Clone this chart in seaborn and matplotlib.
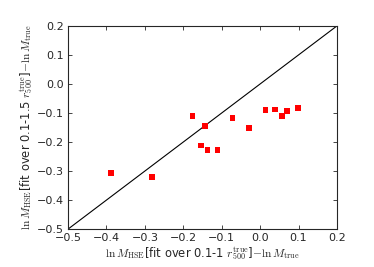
import pandas as pd
import matplotlib
matplotlib.use('Agg')
import matplotlib.pyplot as plt
import seaborn as sns

# 数据
x_fit1 = [-0.388, -0.282, -0.176, -0.144, -0.154, -0.137, -0.111, -0.072,
          -0.028, 0.014, 0.039, 0.056, 0.071, 0.098]
y_fit15 = [-0.306, -0.320, -0.109, -0.146, -0.212, -0.228, -0.228, -0.118,
           -0.152, -0.090, -0.088, -0.109, -0.093, -0.084]
diag = [-0.5, 0.2]
ticks = [-0.5, -0.4, -0.3, -0.2, -0.1, 0.0, 0.1, 0.2]

df = pd.DataFrame({'x': x_fit1, 'y': y_fit15})

sns.set_style('ticks', {'xtick.direction': 'in', 'ytick.direction': 'in'})
plt.rcParams['font.family'] = ['DejaVu Sans']
plt.rcParams['mathtext.fontset'] = 'cm'
plt.rcParams['xtick.top'] = True
plt.rcParams['ytick.right'] = True

fig = plt.figure(figsize=(3.74, 2.67), dpi=100)
ax = fig.add_axes([0.182, 0.142, 0.719, 0.761])

sns.lineplot(x=diag, y=diag, color='black', linewidth=0.8, ax=ax)
sns.scatterplot(data=df, x='x', y='y', marker='s', s=18, color='red',
                edgecolor='none', ax=ax, zorder=3)

ax.set_xlim(-0.5, 0.2)
ax.set_ylim(-0.5, 0.2)
ax.set_xticks(ticks)
ax.set_yticks(ticks)
ax.set_xticklabels([f'{t:.1f}'.replace('-', '\u2212') for t in ticks])
ax.set_yticklabels([f'{t:.1f}'.replace('-', '\u2212') for t in ticks])
ax.tick_params(labelsize=8, length=3, width=0.6, pad=3)
for s in ax.spines.values():
    s.set_linewidth(0.8)

ax.set_xlabel(r'$\ln M_{\rm HSE}$[fit over 0.1-1 $r_{500}^{\rm true}$]$-\ln M_{\rm true}$',
              fontsize=8.3, labelpad=1)
ax.set_ylabel(r'$\ln M_{\rm HSE}$[fit over 0.1-1.5 $r_{500}^{\rm true}$]$-\ln M_{\rm true}$',
              fontsize=8.3, labelpad=1)

fig.savefig('out.png', dpi=100)
